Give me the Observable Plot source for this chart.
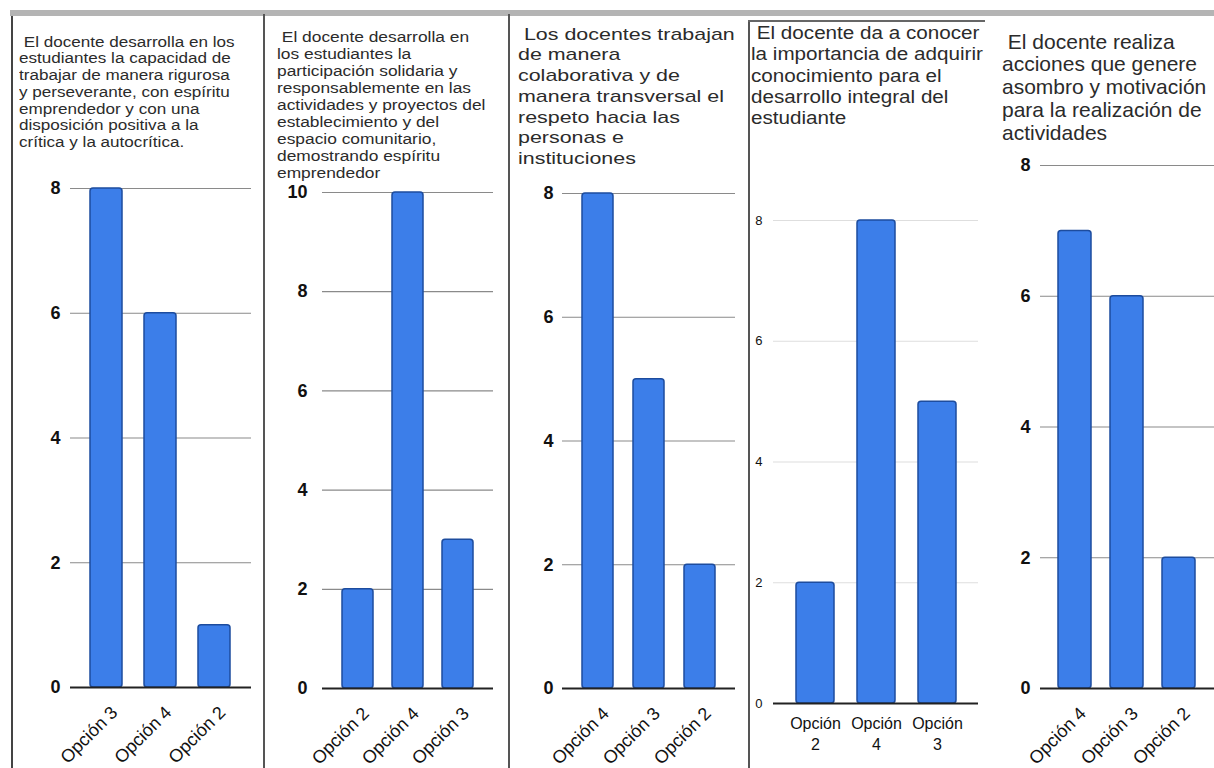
<!DOCTYPE html>
<html>
<head>
<meta charset="utf-8">
<script src="https://cdn.jsdelivr.net/npm/d3@7"></script>
<script src="https://cdn.jsdelivr.net/npm/@observablehq/plot@0.6"></script>
<style>
  html, body { margin: 0; padding: 0; background: #fff; }
  #root { position: relative; width: 1214px; height: 768px; overflow: hidden; background: #fff; font-family: "Liberation Sans", Arial, sans-serif; }
  .title { position: absolute; color: #2b2b2b; white-space: pre; transform-origin: 0 0; }
  .panel { position: absolute; }
  .line { position: absolute; background: #555; }
</style>
</head>
<body>
<div id="root"></div>
<script>
// ---- data ----
const title1 = [" El docente desarrolla en los", "estudiantes la capacidad de", "trabajar de manera rigurosa", "y perseverante, con espíritu", "emprendedor y con una", "disposición positiva a la", "crítica y la autocrítica."];
const title2 = [" El docente desarrolla en", "los estudiantes la", "participación solidaria y", "responsablemente en las", "actividades y proyectos del", "establecimiento y del", "espacio comunitario,", "demostrando espíritu", "emprendedor"];
const title3 = [" Los docentes trabajan", "de manera", "colaborativa y de", "manera transversal el", "respeto hacia las", "personas e", "instituciones"];
const title4 = [" El docente da a conocer", "la importancia de adquirir", "conocimiento para el", "desarrollo integral del", "estudiante"];
const title5 = [" El docente realiza", "acciones que genere", "asombro y motivación", "para la realización de", "actividades"];

const cats1 = ["Opción 3", "Opción 4", "Opción 2"];
const vals1 = [8, 6, 1];
const cats2 = ["Opción 2", "Opción 4", "Opción 3"];
const vals2 = [2, 10, 3];
const cats3 = ["Opción 4", "Opción 3", "Opción 2"];
const vals3 = [8, 5, 2];
const cats4 = ["Opción 2", "Opción 4", "Opción 3"];
const vals4 = [2, 8, 5];
const cats5 = ["Opción 4", "Opción 3", "Opción 2"];
const vals5 = [7, 6, 2];

const yTicks1 = [0, 2, 4, 6, 8];
const yTicks2 = [0, 2, 4, 6, 8, 10];
const yTicks3 = [0, 2, 4, 6, 8];
const yTicks4 = [0, 2, 4, 6, 8];
const yTicks5 = [0, 2, 4, 6, 8];

// ---- layout ----
const root = document.getElementById("root");

function addLine(l, t, w, h, color) {
  const d = document.createElement("div");
  d.className = "line";
  Object.assign(d.style, {left: l + "px", top: t + "px", width: w + "px", height: h + "px"});
  if (color) d.style.background = color;
  root.appendChild(d);
}
function addTitle(lines, l, t, fs, lh, sx) {
  const d = document.createElement("div");
  d.className = "title";
  Object.assign(d.style, {left: l + "px", top: t + "px", fontSize: fs + "px", lineHeight: lh + "px", transform: `scaleX(${sx})`});
  d.textContent = lines.join("\n");
  root.appendChild(d);
}

// frame lines
addLine(10, 10, 1204, 6, "#b4b4b4");
addLine(11, 16, 1.5, 752, "#444");
addLine(263, 14, 1.5, 754, "#555");
addLine(508, 14, 1.5, 754, "#555");
addLine(748, 20, 1.5, 748, "#555");
addLine(748, 20, 237, 1.5, "#666");

addTitle(title1, 19, 33.5, 14, 16.8, 1.22);
addTitle(title2, 277, 28.5, 14, 17, 1.24);
addTitle(title3, 518, 24.5, 17, 20.8, 1.26);
addTitle(title4, 751, 23, 17.5, 21.3, 1.18);
addTitle(title5, 1002, 30.5, 21, 22.8, 1.0);

const panels = [
  {cats: cats1, vals: vals1, ticks: yTicks1, max: 8, left: 10, top: 150, width: 253, height: 600, mt: 38, mb: 63, ml: 60, mr: 12, pi: 0.4, po: 0.36, grid: "#8a8a8a", fs: 18, fw: "bold", tp: 10, rotate: true},
  {cats: cats2, vals: vals2, ticks: yTicks2, max: 10, left: 263, top: 150, width: 245, height: 600, mt: 42, mb: 62, ml: 59, mr: 15, pi: 0.38, po: 0.37, grid: "#8a8a8a", fs: 18, fw: "bold", tp: 15, rotate: true},
  {cats: cats3, vals: vals3, ticks: yTicks3, max: 8, left: 508, top: 150, width: 240, height: 600, mt: 43, mb: 62, ml: 54, mr: 13, pi: 0.39, po: 0.39, grid: "#8a8a8a", fs: 18, fw: "bold", tp: 9, rotate: true},
  {cats: cats4, vals: vals4, ticks: yTicks4, max: 8, left: 748, top: 150, width: 237, height: 600, mt: 70, mb: 47, ml: 25, mr: 7, pi: 0.38, po: 0.35, grid: "#dedede", fs: 13, fw: "normal", tp: 11, rotate: false},
  {cats: cats5, vals: vals5, ticks: yTicks5, max: 8, left: 985, top: 120, width: 229, height: 630, mt: 45, mb: 62, ml: 55, mr: 0, pi: 0.36, po: 0.35, grid: "#8a8a8a", fs: 18, fw: "bold", tp: 10, rotate: true}
];

for (const p of panels) {
  const data = p.cats.map((c, i) => ({cat: c, val: p.vals[i]}));
  const chart = Plot.plot({
    width: p.width,
    height: p.height,
    marginTop: p.mt,
    marginBottom: p.mb,
    marginLeft: p.ml,
    marginRight: p.mr,
    style: {fontFamily: "Liberation Sans, Arial, sans-serif", background: "transparent", color: "#111", overflow: "visible"},
    x: {domain: p.cats, paddingInner: p.pi, paddingOuter: p.po, label: null},
    y: {domain: [0, p.max], label: null},
    marks: [
      Plot.ruleY(p.ticks.filter(t => t > 0), {stroke: p.grid, strokeWidth: 1.2, strokeOpacity: 1}),
      Plot.barY(data, {x: "cat", y: "val", fill: "#3c7ee9", stroke: "#1d4c9e", strokeWidth: 1.5, rx: 3}),
      Plot.ruleY([0], {stroke: "#222", strokeWidth: 1.8}),
      Plot.axisY({ticks: p.ticks, tickSize: 0, tickPadding: p.tp, fontSize: p.fs, fontWeight: p.fw, label: null, fill: "#111"}),
      p.rotate
        ? Plot.axisX({tickSize: 0, tickRotate: -45, tickPadding: 22, dx: 8, fontSize: 18, label: null, fill: "#111"})
        : Plot.axisX({tickSize: 0, tickPadding: 10, fontSize: 16, lineHeight: 1.35, label: null, fill: "#111", tickFormat: d => d.replace(" ", "\n")})
    ]
  });
  const wrap = document.createElement("div");
  wrap.className = "panel";
  Object.assign(wrap.style, {left: p.left + "px", top: p.top + "px"});
  wrap.appendChild(chart);
  root.appendChild(wrap);
}
</script>
</body>
</html>
